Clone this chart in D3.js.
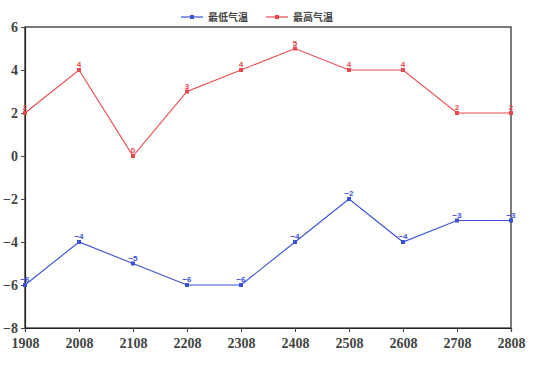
<!DOCTYPE html>
<html lang="zh">
<head>
<meta charset="utf-8">
<title>气温折线图</title>
<script src="https://cdn.jsdelivr.net/npm/d3@7"></script>
<style>
  body { margin: 0; background: #fff; }
  .tick text { font-family: "Liberation Serif", "Times New Roman", serif; font-weight: bold; fill: #444; }
</style>
</head>
<body>
<script>
// data
var years = ["1908", "2008", "2108", "2208", "2308", "2408", "2508", "2608", "2708", "2808"];
var minTemp = [-6, -4, -5, -6, -6, -4, -2, -4, -3, -3];
var maxTemp = [2, 4, 0, 3, 4, 5, 4, 4, 2, 2];
var yTicks = [-8, -6, -4, -2, 0, 2, 4, 6];

var width = 537, height = 374;
var plotLeft = 25, plotRight = 511, plotTop = 27, plotBottom = 328;

// use a real minus sign like the original
function fmt(d) { return d < 0 ? "\u2212" + Math.abs(d) : String(d); }

var svg = d3.select("body").append("svg")
  .attr("width", width)
  .attr("height", height);

var x = d3.scalePoint().domain(years).range([plotLeft, plotRight]);
var y = d3.scaleLinear().domain([-8, 6]).range([plotBottom, plotTop]);

// frame
svg.append("rect")
  .attr("x", plotLeft).attr("y", plotTop)
  .attr("width", plotRight - plotLeft).attr("height", plotBottom - plotTop)
  .attr("fill", "none").attr("stroke", "#222").attr("stroke-width", 1.2);

var yAxis = svg.append("g")
  .attr("transform", "translate(" + plotLeft + ",0)")
  .call(d3.axisLeft(y).tickValues(yTicks).tickSize(4).tickPadding(3).tickFormat(fmt));
yAxis.selectAll("text").style("font-size", "14px");

var xAxis = svg.append("g")
  .attr("transform", "translate(0," + plotBottom + ")")
  .call(d3.axisBottom(x).tickSize(4).tickPadding(6));
xAxis.selectAll("text").style("font-size", "14px");
svg.selectAll(".domain").attr("stroke", "#222").attr("stroke-width", 1.2);
svg.selectAll(".tick line").attr("stroke", "#444");

var series = [
  { name: "最低气温", values: minTemp, color: "#3b52d6" },
  { name: "最高气温", values: maxTemp, color: "#e8494f" }
];

var line = d3.line()
  .x(function(d, i) { return x(years[i]); })
  .y(function(d) { return y(d); });

series.forEach(function(s) {
  var g = svg.append("g");
  g.append("path")
    .datum(s.values)
    .attr("d", line)
    .attr("fill", "none")
    .attr("stroke", s.color)
    .attr("stroke-width", 1.1);

  g.selectAll("rect")
    .data(s.values)
    .enter()
    .append("rect")
    .attr("x", function(d, i) { return x(years[i]) - 2; })
    .attr("y", function(d) { return y(d) - 2; })
    .attr("width", 4).attr("height", 4)
    .attr("fill", s.color);

  g.selectAll("text")
    .data(s.values)
    .enter()
    .append("text")
    .attr("x", function(d, i) { return x(years[i]); })
    .attr("y", function(d) { return y(d) - 3; })
    .attr("text-anchor", "middle")
    .style("font-family", "Liberation Sans, sans-serif")
    .style("font-size", "8px")
    .style("font-weight", "bold")
    .attr("fill", s.color)
    .text(fmt);
});

// legend
var legend = [{ x: 181, s: series[0] }, { x: 266, s: series[1] }];
legend.forEach(function(l) {
  var g = svg.append("g").attr("transform", "translate(" + l.x + ",17)");
  g.append("line").attr("x1", 0).attr("x2", 22).attr("y1", 0).attr("y2", 0)
    .attr("stroke", l.s.color).attr("stroke-width", 1.2);
  g.append("rect").attr("x", 9).attr("y", -2).attr("width", 4).attr("height", 4)
    .attr("fill", l.s.color);
  g.append("text").attr("x", 27).attr("y", 4)
    .style("font-family", "Noto Sans CJK SC, sans-serif")
    .style("font-size", "10px")
    .style("font-weight", "bold")
    .attr("fill", "#444")
    .text(l.s.name);
});
</script>
</body>
</html>
